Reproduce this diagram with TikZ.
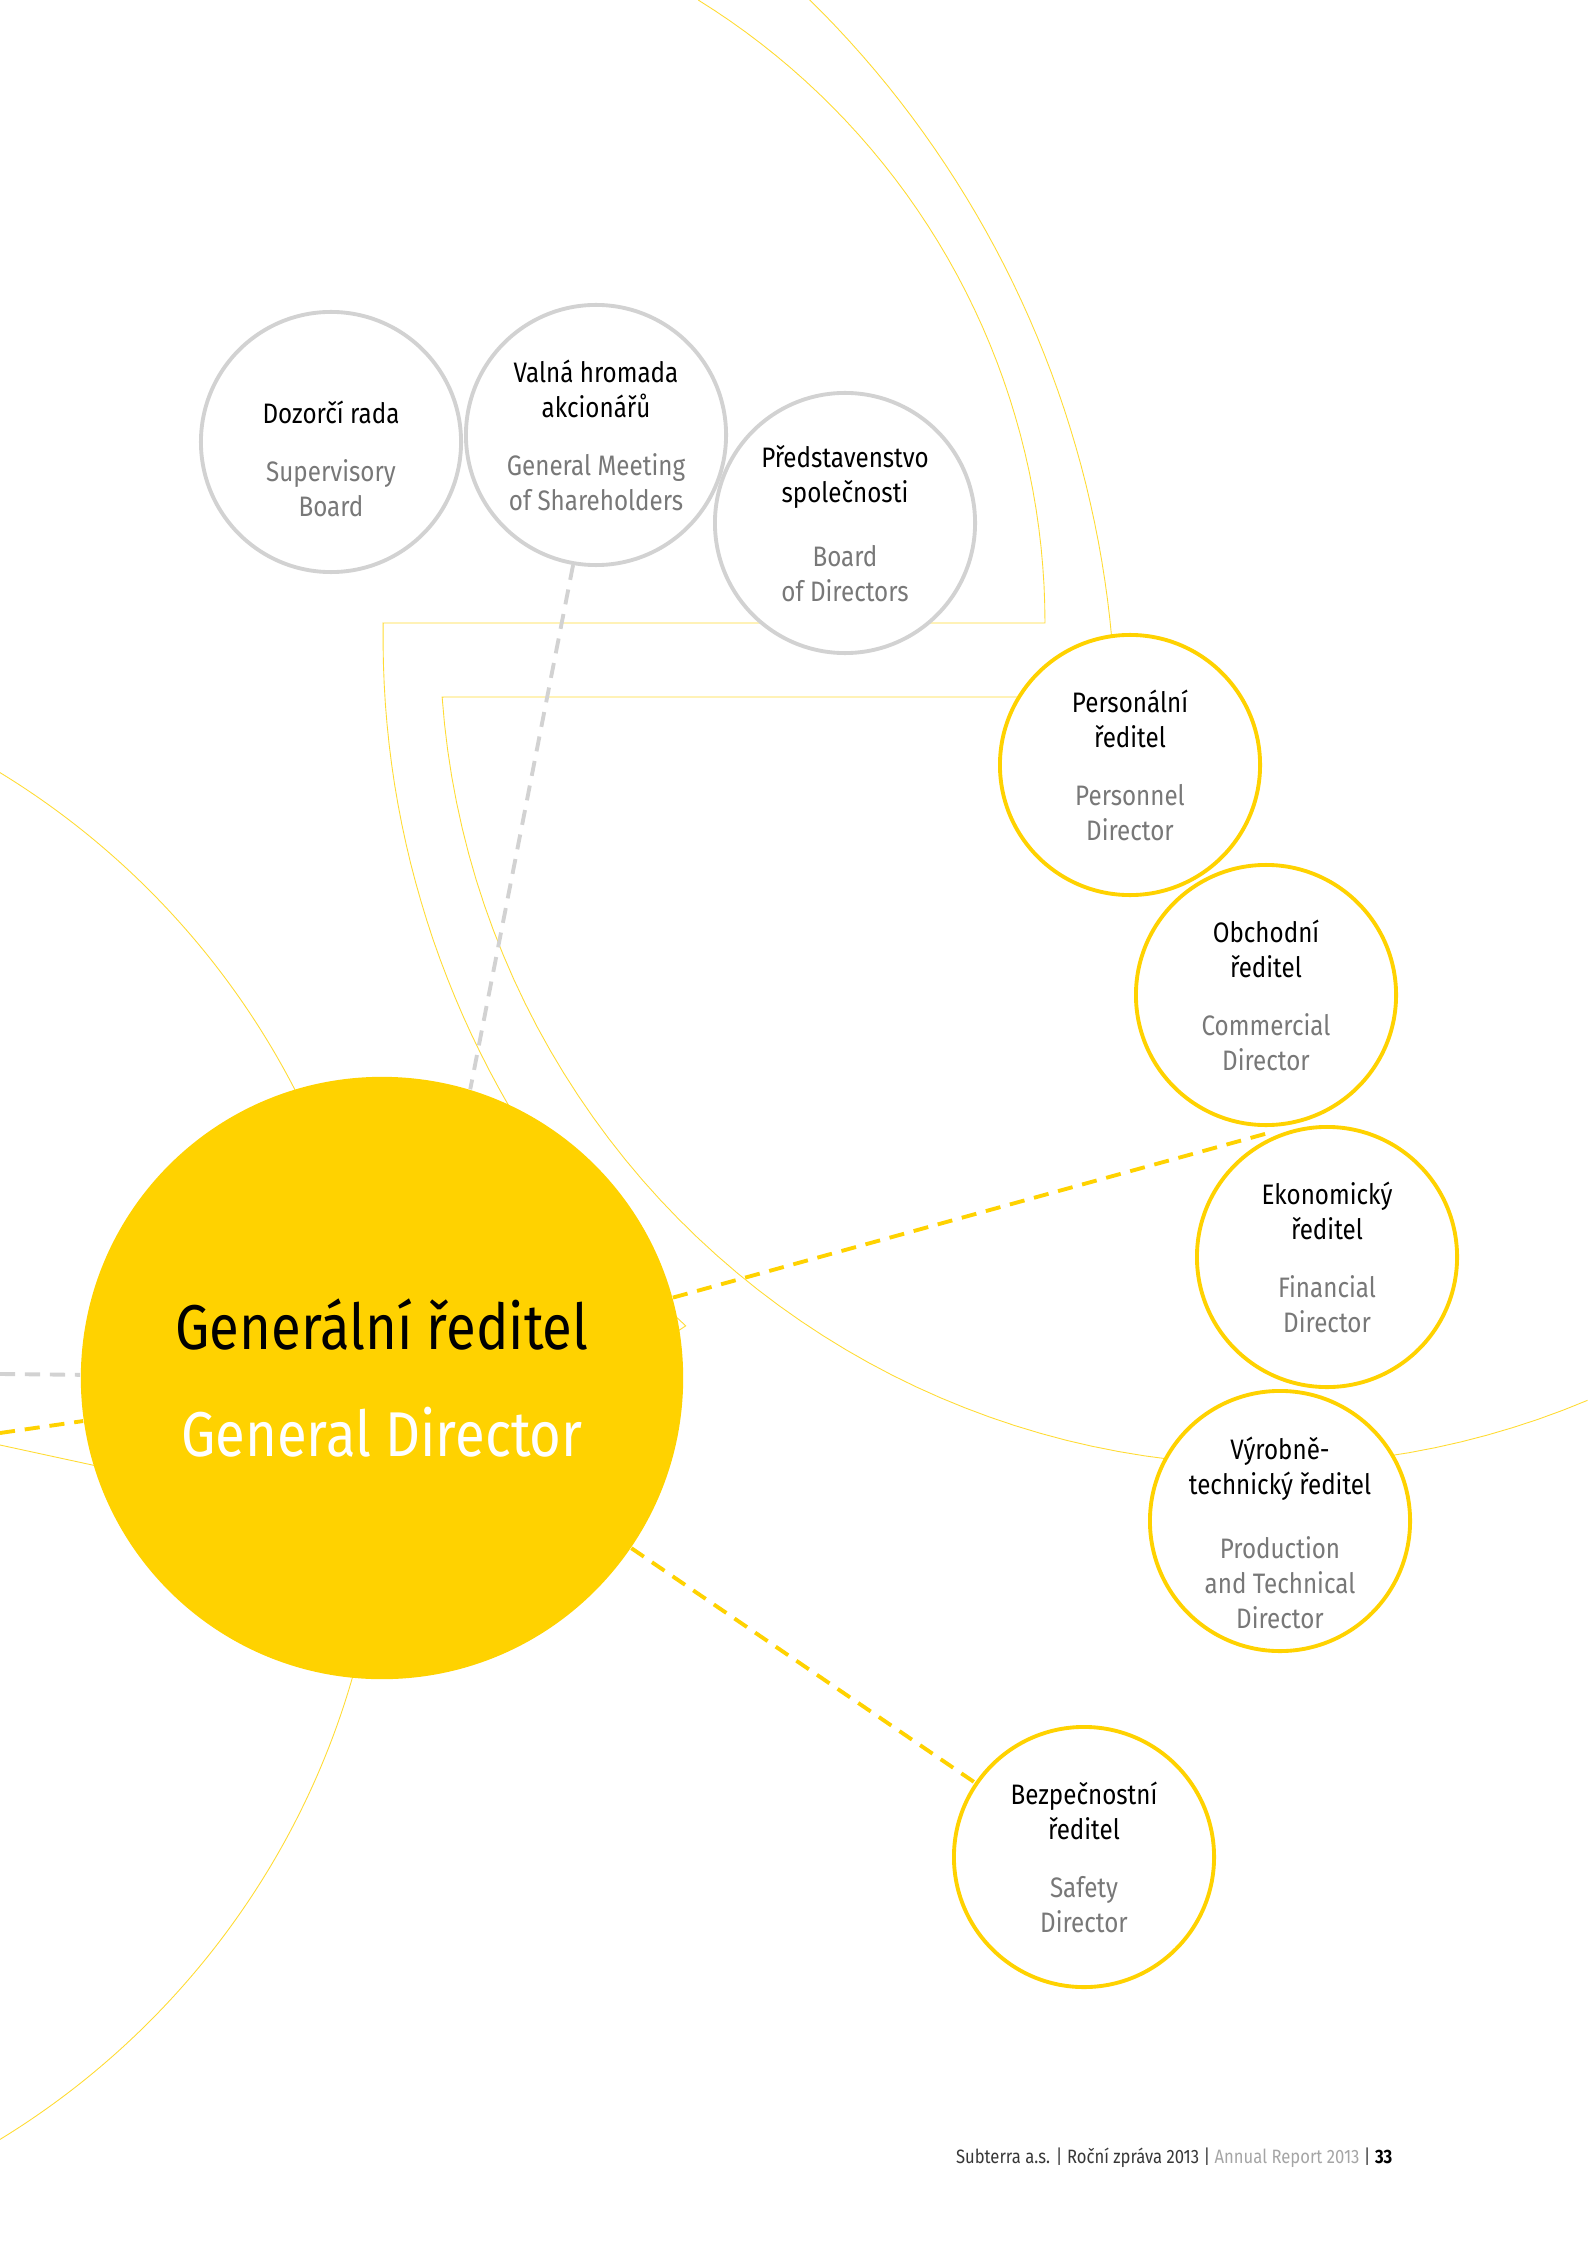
\documentclass[tikz,border=0pt]{standalone}
\usepackage{fontspec}
\setmainfont[FakeStretch=0.86]{Fira Sans}

\definecolor{subyellow}{RGB}{255,210,0}
\definecolor{ringgrey}{RGB}{210,210,210}
\definecolor{labelgrey}{RGB}{120,120,120}
\definecolor{footgrey}{RGB}{165,165,165}
\definecolor{footdark}{RGB}{55,55,55}

\tikzset{
	board/.style={circle, draw=ringgrey, line width=1.1pt, fill=white, minimum size=2.6cm, inner sep=-20pt, align=center, font=\fontsize{8}{10}\selectfont},
	director/.style={board, draw=subyellow},
	link/.style={dash pattern=on 4.3pt off 2.8pt, line width=1.1pt},
	arcline/.style={subyellow!80, line width=0.25pt}
}
\newcommand{\duo}[3][9.5pt]{\rule{0pt}{#1}#2\\[8.5pt]\textcolor{labelgrey}{\begin{tabular}{@{}c@{}}#3\end{tabular}}}

\begin{document}
\begin{tikzpicture}[x=0.01cm, y=-0.01cm]
			\useasboundingbox (0,0) rectangle (1588,2246);

			\begin{scope}
			\clip (0,0) rectangle (1588,2246);
			\draw[arcline] plot[domain=-58.2:0, samples=40] ({312+733*cos(\x)},{623+733*sin(\x)}) -- (383,623)
				-- plot[domain=180.9:132.5, samples=40] ({1316+933*cos(\x)},{638+933*sin(\x)}) -- (678,1331);
			\draw[arcline] plot[domain=-45.5:-3, samples=40] ({90+1026*cos(\x)},{731+1026*sin(\x)}) -- (1050,697) -- (445,697)
				-- plot[domain=175.9:67.2, samples=60] ({1267+827*cos(\x)},{638+827*sin(\x)});
			\draw[arcline] (-417,1456) circle[radius=8cm];
			\draw[arcline] (0,1445) -- (120,1471);
			\end{scope}

			\node[board] (dozorci) at (331,442) {\duo[19pt]{Dozorčí rada}{Supervisory\\Board}};
			\node[board] (valna) at (596,435) {\duo{Valná hromada\\akcionářů}{General Meeting\\of Shareholders}};
			\node[board] (predst) at (845,523) {\duo{Představenstvo\\společnosti}{Board\\of Directors}};

			\node[director] (personal) at (1130,765) {\duo{Personální\\ředitel}{Personnel\\Director}};
			\node[director] (obchod) at (1266,995) {\duo{Obchodní\\ředitel}{Commercial\\Director}};
			\node[director] (ekonom) at (1327,1257) {\duo{Ekonomický\\ředitel}{Financial\\Director}};
			\node[director] (vyrob) at (1280,1521) {\duo[16pt]{Výrobně-\\technický ředitel}{Production\\and Technical\\Director}};
			\node[director] (bezpec) at (1084,1857) {\duo{Bezpečnostní\\ředitel}{Safety\\Director}};

			\node[circle, fill=subyellow, minimum size=6.02cm, inner sep=0pt, align=center, font=\fontsize{18}{21.6}\selectfont] (gen) at (382,1378)
				{Generální ředitel\\[9pt]\color{white}General Director};

			\coordinate (junc) at (1272,1132);
			\coordinate (edgegrey) at (0,1374);
			\coordinate (edgeyel) at (0,1433);

			\draw[link, ringgrey] (valna.260) -- (gen.73);
			\draw[link, ringgrey] (edgegrey) -- (gen);
			\draw[link, subyellow] (edgeyel) -- (gen);
			\draw[link, subyellow] (gen) -- (junc);
			\draw[link, subyellow] (gen) -- (bezpec);

			\node[anchor=base east, inner sep=0pt, font=\fontsize{5.5}{6.6}\selectfont] (footer) at (1393,2163)
				{\color{footdark}Subterra a.s. | Roční zpráva 2013 | \color{footgrey}Annual Report 2013 \color{footdark}| \textbf{\color{black}33}};
\end{tikzpicture}
\end{document}
